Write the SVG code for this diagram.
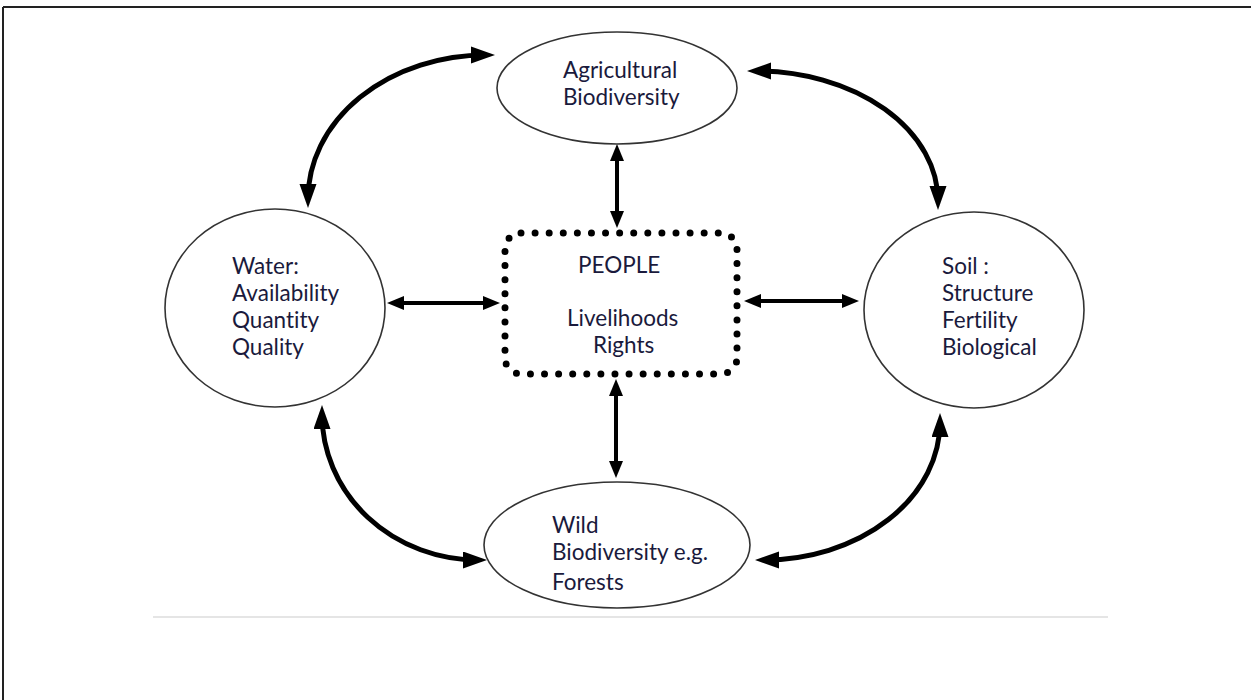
<svg xmlns="http://www.w3.org/2000/svg" width="1251" height="700" viewBox="0 0 1251 700">
  <defs>
    <style>
      .node { fill: #ffffff; stroke: #333333; stroke-width: 1.6; }
      .lbl { font-family: Lato, "Open Sans", sans-serif; font-size: 22.5px; fill: #1a1a3c; font-variant-ligatures: none; font-feature-settings: "liga" 0, "dlig" 0; }
      .curve { fill: none; stroke: #000000; stroke-width: 5; marker-start: url(#headBig); marker-end: url(#headBig); }
      .straight { fill: none; stroke: #000000; stroke-width: 4; marker-start: url(#headSmall); marker-end: url(#headSmall); }
    </style>
    <marker id="headBig" markerUnits="userSpaceOnUse" markerWidth="26" markerHeight="19" refX="15" refY="8.5" orient="auto-start-reverse">
      <path d="M0,0 L24,8.5 L0,17 z" fill="#000000"/>
    </marker>
    <marker id="headSmall" markerUnits="userSpaceOnUse" markerWidth="20" markerHeight="15" refX="10" refY="7" orient="auto-start-reverse">
      <path d="M0,0 L17,7 L0,14 z" fill="#000000"/>
    </marker>
  </defs>
  <rect x="0" y="0" width="1251" height="700" fill="#ffffff"/>
  <g id="frame">
    <line x1="3" y1="7" x2="1251" y2="7" stroke="#222222" stroke-width="2"/>
    <line x1="3" y1="7" x2="3" y2="700" stroke="#222222" stroke-width="2"/>
    <line x1="153" y1="617" x2="1108" y2="617" stroke="#dddddd" stroke-width="1.5"/>
  </g>
  <g id="connectors">
    <path class="curve" d="M308,199 A178,144 0 0 1 486,55"/>
    <path class="curve" d="M756,71 A182,130 0 0 1 938,201"/>
    <path class="curve" d="M322,414 A156,146 0 0 0 478,560"/>
    <path class="curve" d="M940,422 A176,138 0 0 1 764,560"/>
    <path class="straight" d="M617,151 L617,221"/>
    <path class="straight" d="M616,386 L616,471"/>
    <path class="straight" d="M394,303 L493,303"/>
    <path class="straight" d="M751,301 L852,301"/>
  </g>
  <g id="agricultural">
    <ellipse class="node" cx="617" cy="88" rx="120" ry="56"/>
    <text class="lbl" x="563" y="78">Agricultural</text>
    <text class="lbl" x="563" y="105">Biodiversity</text>
  </g>
  <g id="water">
    <ellipse class="node" cx="275" cy="308" rx="110" ry="99"/>
    <text class="lbl" x="232" y="274">Water:</text>
    <text class="lbl" x="232" y="301">Availability</text>
    <text class="lbl" x="232" y="328">Quantity</text>
    <text class="lbl" x="232" y="355">Quality</text>
  </g>
  <g id="soil">
    <ellipse class="node" cx="974" cy="310" rx="110" ry="98"/>
    <text class="lbl" x="942" y="274">Soil :</text>
    <text class="lbl" x="942" y="301">Structure</text>
    <text class="lbl" x="942" y="328">Fertility</text>
    <text class="lbl" x="942" y="355">Biological</text>
  </g>
  <g id="wild">
    <ellipse class="node" cx="617" cy="545" rx="133" ry="63"/>
    <text class="lbl" x="552" y="533">Wild</text>
    <text class="lbl" x="552" y="560">Biodiversity e.g.</text>
    <text class="lbl" x="552" y="590">Forests</text>
  </g>
  <g id="people">
    <rect x="505" y="233" width="232" height="141" rx="16" fill="none" stroke="#000000" stroke-width="7" stroke-linecap="round" stroke-dasharray="0 14.09"/>
    <text class="lbl" x="578" y="273">PEOPLE</text>
    <text class="lbl" x="567" y="326">Livelihoods</text>
    <text class="lbl" x="593" y="353">Rights</text>
  </g>
</svg>
